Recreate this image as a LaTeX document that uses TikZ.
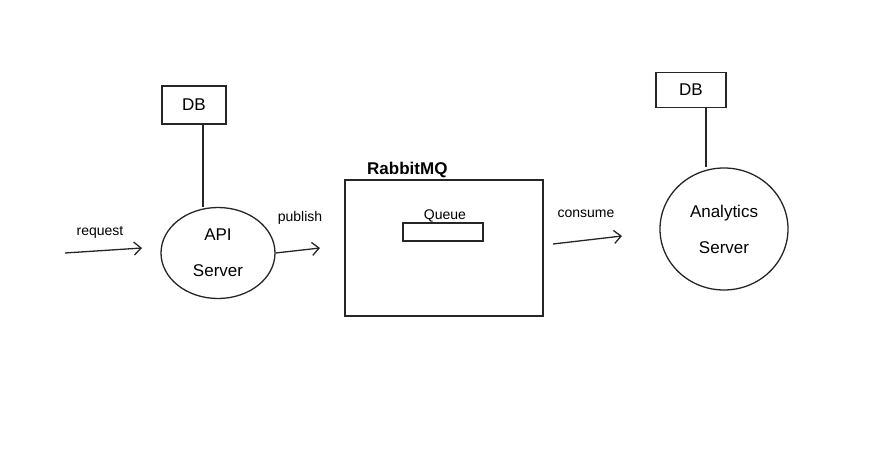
\documentclass[tikz,border=0pt]{standalone}
\usepackage{fontspec}
\setmainfont{Liberation Sans}
\usetikzlibrary{shapes.geometric,arrows.meta}
\begin{document}
\begin{tikzpicture}[x=1pt,y=-1pt,
  ink/.style={draw=black!85,line width=1.3pt},
  dbbox/.style={ink,rectangle,minimum width=64pt,minimum height=38pt,font=\fontsize{17}{20}\selectfont,inner sep=0pt},
  server/.style={ink,ellipse,align=center,inner sep=0pt,font=\fontsize{17}{36}\selectfont},
  lbl/.style={font=\fontsize{14}{16}\selectfont,inner sep=1pt},
  arr/.style={ink,-{Straight Barb[length=7pt,width=13pt]}}]
\path[use as bounding box,fill=white] (0,0) rectangle (890,457);
% left side
\node[dbbox] (db1) at (194,105) {DB};
\node[server,minimum width=114pt,minimum height=91pt] (api) at (218,253) {API\\Server};
\draw[ink] (db1.south) ++(9,0) coordinate (db1b) -- (db1b |- api.north);
\coordinate (rqs) at (65,253);
\coordinate (rqe) at (142,248);
\draw[arr] (rqs) -- (rqe);
\node[lbl] (rql) at (100,232) {request};
% RabbitMQ
\node[ink,rectangle,minimum width=198pt,minimum height=136pt] (mq) at (444,248) {};
\node[font=\bfseries\fontsize{17}{20}\selectfont,anchor=south west,inner sep=2pt] (mql) at (365,180) {RabbitMQ};
\node[ink,rectangle,minimum width=80pt,minimum height=18pt,line width=1.1pt] (q) at (443,232) {};
\node[lbl,anchor=south] (ql) at (445,223) {Queue};
\coordinate (pe) at (320,248);
\draw[arr] (api.east) -- (pe);
\node[lbl] (pl) at (300,218) {publish};
% right side
\node[dbbox,minimum width=70pt,minimum height=35pt] (db2) at (691,90) {DB};
\node[server,minimum width=128pt,minimum height=122pt] (an) at (724,229) {Analytics\\Server};
\draw[ink] (db2.south) ++(15,0) coordinate (db2b) -- (db2b |- an.north);
\coordinate (cs) at (553,244);
\coordinate (ce) at (622,236);
\draw[arr] (cs) -- (ce);
\node[lbl] (cl) at (586,214) {consume};
\end{tikzpicture}
\end{document}
